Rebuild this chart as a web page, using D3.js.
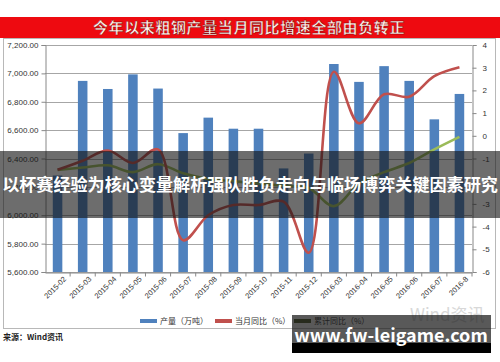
<!DOCTYPE html>
<html>
<head>
<meta charset="utf-8">
<script src="https://cdn.jsdelivr.net/npm/d3@7"></script>
<style>
    body { margin: 0; background: #fff; }
    svg { display: block; font-family: "Noto Sans CJK SC", "Noto Sans", sans-serif; }
</style>
</head>
<body>
<div id="chart"></div>
<script>
// 粗钢产量 当月同比 / 累计同比

const months = ["2015-02", "2015-03", "2015-04", "2015-05", "2015-06", "2015-07", "2015-08", "2015-09",
    "2015-10", "2015-11", "2015-12", "2016-03", "2016-04", "2016-05", "2016-06", "2016-07", "2016-8"];
const output = [6280, 6947, 6890, 6993, 6893, 6579, 6688, 6610, 6610, 6330, 6435, 7066, 6940, 7051, 6947, 6676, 6855];
const monthYoY = [-1.5, -1.1, -0.65, -1.2, -0.6, -4.6, -3.5, -3.05, -3.05, -2.9, -5.15, 2.82, 0.55, 1.83, 1.72, 2.63, 3.02];
const cumYoY = [-1.5, -1.4, -1.3, -1.6, -1.25, -1.65, -1.9, -2.0, -2.1, -2.2, -2.3, -3.1, -2.1, -1.6, -1.2, -0.6, -0.05];
const leftTicks = [5600, 5800, 6000, 6200, 6400, 6600, 6800, 7000, 7200];
const rightTicks = [-6, -5, -4, -3, -2, -1, 0, 1, 2, 3, 4];
const legendItems = [
    { label: "产量（万吨）", color: "#4f81bd" },
    { label: "当月同比（%）", color: "#c0504d" },
    { label: "累计同比（%）", color: "#4b5a2a" }
];

const width = 500;
const height = 362;
const plot = { left: 45, right: 472, top: 45, bottom: 272 };

const svg = d3.select("#chart").append("svg")
    .attr("width", width)
    .attr("height", height);

// title bar
svg.append("rect")
    .attr("x", 0).attr("y", 17)
    .attr("width", width).attr("height", 21)
    .attr("fill", "#ee0a10");

svg.append("text")
    .attr("x", 249).attr("y", 33)
    .attr("text-anchor", "middle")
    .attr("fill", "#fff4ee")
    .attr("stroke", "#7a0000")
    .attr("stroke-width", 0.4)
    .attr("font-size", 15)
    .attr("font-weight", "bold")
    .attr("letter-spacing", 0.6)
    .text("今年以来粗钢产量当月同比增速全部由负转正");

// chart frame
svg.append("rect")
    .attr("x", 3.5).attr("y", 38.5)
    .attr("width", 492).attr("height", 290)
    .attr("fill", "#fff")
    .attr("stroke", "#b8b8b8");

const x = d3.scaleBand()
    .domain(months)
    .range([plot.left, plot.right])
    .paddingInner(0.62)
    .paddingOuter(0.31);

const yLeft = d3.scaleLinear()
    .domain([5600, 7200])
    .range([plot.bottom, plot.top]);

const yRight = d3.scaleLinear()
    .domain([-6, 4])
    .range([plot.bottom, plot.top]);

const root = svg.append("g");

// grid
root.append("g")
    .selectAll("line")
    .data(leftTicks)
    .join("line")
    .attr("x1", plot.left).attr("x2", plot.right)
    .attr("y1", d => Math.round(yLeft(d)) + 0.5)
    .attr("y2", d => Math.round(yLeft(d)) + 0.5)
    .attr("stroke", "#a6a6a6")
    .attr("stroke-width", 1);

// bars
root.append("g")
    .selectAll("rect")
    .data(months.map((m, i) => ({ m, v: output[i] })))
    .join("rect")
    .attr("x", d => x(d.m))
    .attr("y", d => yLeft(d.v))
    .attr("width", x.bandwidth())
    .attr("height", d => plot.bottom - yLeft(d.v))
    .attr("fill", "#4f81bd");

// axes
const xAxis = root.append("g")
    .attr("transform", `translate(0,${plot.bottom + 0.5})`)
    .call(d3.axisBottom(x).tickSize(4).tickSizeOuter(0));
xAxis.select(".domain").attr("stroke", "#888");
xAxis.selectAll(".tick line").attr("stroke", "#888")
    .attr("transform", `translate(${x.step() / 2},0)`);
xAxis.selectAll("text")
    .attr("fill", "#333")
    .attr("font-size", 7.5)
    .attr("text-anchor", "end")
    .attr("dx", "0.2em")
    .attr("dy", "0.6em")
    .attr("transform", "rotate(-45)");

const yAxisL = root.append("g")
    .attr("transform", `translate(${plot.left + 0.5},0)`)
    .call(d3.axisLeft(yLeft).tickValues(leftTicks).tickSize(4).tickPadding(3).tickFormat(d3.format(",.2f")));
yAxisL.select(".domain").attr("stroke", "#888");
yAxisL.selectAll(".tick line").attr("stroke", "#888");
yAxisL.selectAll("text").attr("fill", "#333").attr("font-size", 8);

const yAxisR = root.append("g")
    .attr("transform", `translate(${plot.right + 0.5},0)`)
    .call(d3.axisRight(yRight).tickValues(rightTicks).tickSize(4).tickPadding(6).tickFormat(d => String(d)));
yAxisR.select(".domain").attr("stroke", "#888");
yAxisR.selectAll(".tick line").attr("stroke", "#888");
yAxisR.selectAll("text").attr("fill", "#333").attr("font-size", 8);

// lines
const cx = m => x(m) + x.bandwidth() / 2;
const line = d3.line()
    .x(d => cx(d.m))
    .y(d => yRight(d.v))
    .curve(d3.curveCatmullRom.alpha(0.5));

root.append("path")
    .datum(months.map((m, i) => ({ m, v: cumYoY[i] })))
    .attr("d", line)
    .attr("fill", "none")
    .attr("stroke", "#9bbb59")
    .attr("stroke-width", 2.6)
    .attr("stroke-linejoin", "round");

root.append("path")
    .datum(months.map((m, i) => ({ m, v: monthYoY[i] })))
    .attr("d", line)
    .attr("fill", "none")
    .attr("stroke", "#c0504d")
    .attr("stroke-width", 2.6)
    .attr("stroke-linejoin", "round");

// faint Wind logo watermark
svg.append("text")
    .attr("x", 410).attr("y", 321)
    .attr("fill", "#d8d8d8")
    .attr("font-size", 17)
    .text("Wind资讯");

// legend
const legendX = [140, 215, 294];
const legend = svg.append("g")
    .selectAll("g")
    .data(legendItems)
    .join("g")
    .attr("transform", (d, i) => `translate(${legendX[i]},321)`);
legend.append("rect")
    .attr("x", 0).attr("y", -2)
    .attr("width", 17).attr("height", 4)
    .attr("fill", d => d.color);
legend.append("text")
    .attr("x", 20).attr("y", 3)
    .attr("font-size", 8)
    .attr("fill", "#333")
    .text(d => d.label);

// source
svg.append("text")
    .attr("x", 3).attr("y", 340)
    .attr("font-size", 8)
    .attr("font-weight", "bold")
    .attr("fill", "#222")
    .text("来源：Wind资讯");

// overlay banner
svg.append("rect")
    .attr("x", 0).attr("y", 151)
    .attr("width", width).attr("height", 67)
    .attr("fill", "rgba(20,20,20,0.62)");

svg.append("text")
    .attr("x", 250).attr("y", 191)
    .attr("text-anchor", "middle")
    .attr("fill", "#fff")
    .attr("font-size", 17.1)
    .attr("font-weight", "bold")
    .text("以杯赛经验为核心变量解析强队胜负走向与临场博弈关键因素研究");

// site watermark
svg.append("rect")
    .attr("x", 292).attr("y", 315)
    .attr("width", 199).attr("height", 38)
    .attr("fill", "rgba(25,25,25,0.72)");
svg.append("rect")
    .attr("x", 292).attr("y", 343)
    .attr("width", 199).attr("height", 10)
    .attr("fill", "#000");
svg.append("text")
    .attr("x", 391).attr("y", 342)
    .attr("text-anchor", "middle")
    .attr("fill", "#fff")
    .attr("font-size", 18)
    .attr("font-weight", "bold")
    .text("www.fw-leigame.com");
</script>
</body>
</html>
